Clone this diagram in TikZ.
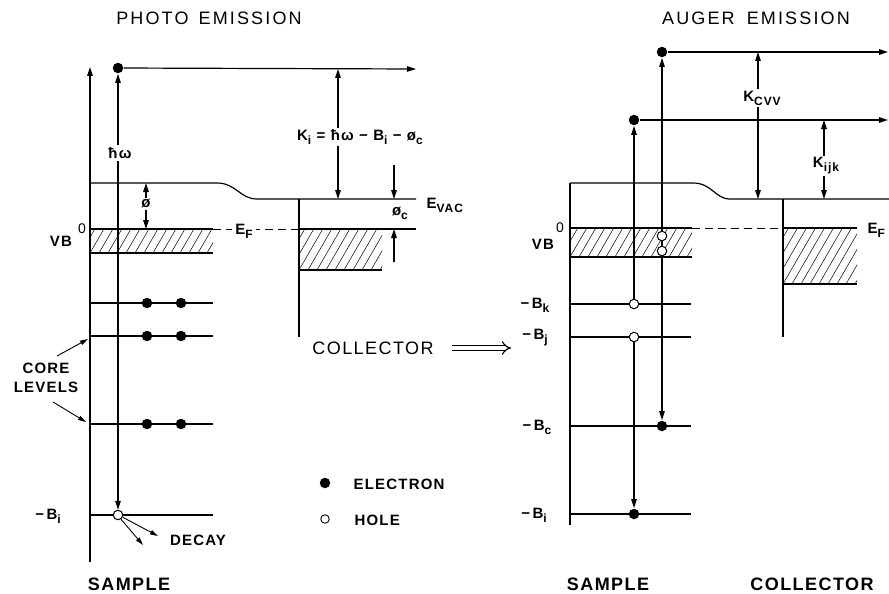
\documentclass[tikz,border=0pt]{standalone}
\usepackage{fontspec}
\setmainfont{Liberation Sans}[LetterSpace=8]
\usetikzlibrary{arrows.meta}
\newcommand\sbs[1]{\raisebox{-0.5ex}{\scalebox{0.8}{#1}}}
\newcommand\hatchbox[4]{%
  \begin{scope}
    \clip (#1,#2) rectangle (#3,#4);
    \pgfmathsetmacro\hh{#4-#2}
    \foreach \k in {-4,...,22}{
      \draw[hatchline] ({#1+\k*9},#4) -- ++({0.58*\hh},{-\hh});
    }
  \end{scope}}
\begin{document}
\begin{tikzpicture}[x=1pt,y=-1pt,
  line width=1.2pt,
  >={Triangle[length=9pt,width=5.5pt]},
  smallarr/.style={line width=0.9pt,-{Triangle[length=8pt,width=4.5pt]}},
  hatchline/.style={line width=0.5pt},
  elec/.style={circle,fill=black,inner sep=0pt,minimum size=10.5pt},
  hole/.style={circle,draw,line width=1pt,fill=white,inner sep=0pt,minimum size=9.5pt},
  lab/.style={font=\bfseries\fontsize{15}{18}\selectfont,inner sep=1pt},
  cut/.style={lab,fill=white,inner sep=2pt},
  big/.style={font=\bfseries\fontsize{18}{20}\selectfont,inner sep=0pt},
  ttl/.style={font=\fontsize{18}{20}\selectfont\addfontfeature{LetterSpace=12},inner sep=0pt},
  dashline/.style={line width=1pt,dash pattern=on 8pt off 5pt}]
\clip (0,0) rectangle (889,594);
\fill[white] (0,0) rectangle (889,594);

% ================= LEFT: PHOTO EMISSION =================
\node[ttl] (t1) at (209,18) {PHOTO\hspace{10pt}EMISSION};

% axis
\coordinate (axB) at (90,562);
\coordinate (axT) at (90,67);
\draw[->] (axB) -- (axT);

% hatched bands
\hatchbox{90}{229}{213}{253}
\hatchbox{299}{229}{382}{270}

% vacuum level
\coordinate (v1) at (90,183);
\coordinate (v2) at (217,183);
\coordinate (v3) at (257,199);
\coordinate (v4) at (416,199);
\draw (v1) -- (v2) .. controls (236,183) and (240,199) .. (v3) -- (v4);

% Fermi level
\coordinate (f1) at (90,229);
\coordinate (f2) at (213,229);
\coordinate (f3) at (299,229);
\coordinate (f4) at (416,229);
\draw (f1) -- (f2);
\draw[dashline] (f2) -- (f3);
\draw (f3) -- (f4);
\node[cut,fill=white,inner sep=3pt] (ef1) at (244,231) {E\sbs{F}};
\draw (90,253) -- (213,253);

% collector
\coordinate (c1) at (299,199);
\coordinate (c2) at (299,337);
\draw (c1) -- (c2);
\draw (299,270) -- (382,270);

% core levels
\foreach \y/\n in {303/a,336/b,424/c}{
  \draw (90,\y) -- (213,\y);
  \node[elec] (ea\n) at (147,\y) {};
  \node[elec] (eb\n) at (181,\y) {};
}
\coordinate (bi1) at (90,515);
\coordinate (bi2) at (213,515);
\draw (bi1) -- (bi2);

% photo excitation
\node[elec] (e0) at (118,68) {};
\node[hole] (h0) at (118,515) {};
\draw[<->] (h0) -- (e0);
\node[cut] (hw) at (120,153) {ħω};
\coordinate (kend) at (416,69);
\draw[->] (e0) -- (kend);

% work function
\coordinate (p1) at (146,183);
\coordinate (p2) at (146,229);
\draw[<->] (p1) -- (p2);
\node[cut] (phi) at (146,204) {ø};

% K_i
\coordinate (k1) at (338,69);
\coordinate (k2) at (338,199);
\draw[<->] (k1) -- (k2);
\node[cut] (ki) at (360,137) {K\sbs{i} = ħω − B\sbs{i} − ø\sbs{c}};

% phi_c
\coordinate (pc1) at (394,165);
\coordinate (pc2) at (394,199);
\coordinate (pc3) at (394,262);
\coordinate (pc4) at (394,229);
\draw[->] (pc1) -- (pc2);
\draw[->] (pc3) -- (pc4);
\node[lab] (phic) at (400,213) {ø\sbs{c}};
\node[lab,anchor=west] (evac) at (425,205) {E\sbs{VAC}};

% labels left
\node[lab] (vb1) at (61,241) {VB};
\node[lab,font=\fontsize{14}{16}\selectfont] (vb1o) at (82,229) {0};
\node[lab] (bil) at (48,516) {−\,B\sbs{i}};
\node[lab,align=center,font=\bfseries\fontsize{15}{19}\selectfont] (core) at (46,378) {CORE\\LEVELS};
\coordinate (ca1) at (57,356);
\coordinate (ca2) at (88,339);
\coordinate (cb1) at (53,402);
\coordinate (cb2) at (86,422);
\draw[smallarr] (ca1) -- (ca2);
\draw[smallarr] (cb1) -- (cb2);

% decay
\coordinate (d1) at (158,536);
\coordinate (d2) at (143,545);
\draw[smallarr] (h0.-25) -- (d1);
\draw[smallarr] (h0.-55) -- (d2);
\node[lab] (decay) at (198,540) {DECAY};
\node[big] (samp1) at (129,584) {SAMPLE};

% middle
\node[font=\fontsize{18}{20}\selectfont,inner sep=0pt] (coll0) at (373,348) {COLLECTOR};
\coordinate (da1) at (452,348);
\coordinate (da2) at (511,348);
\draw[line width=1.2pt,double,double distance=3.5pt,-{Implies[length=10pt]}] (da1) -- (da2);

% legend
\node[elec] (le) at (325,483) {};
\node[lab,anchor=west] (let) at (352,484) {ELECTRON};
\node[hole,line width=0.9pt,minimum size=8.5pt] (lh) at (325,519) {};
\node[lab,anchor=west] (lht) at (353,520) {HOLE};

% ================= RIGHT: AUGER EMISSION =================
\node[ttl] (t2) at (756,18) {AUGER\hspace{12pt}EMISSION};

\hatchbox{570}{228}{692}{257}
\hatchbox{783}{228}{857}{284}

\coordinate (ra1) at (570,183);
\coordinate (ra2) at (570,525);
\draw (ra1) -- (ra2);
\coordinate (rv2) at (693,183);
\coordinate (rv3) at (730,199);
\coordinate (rv4) at (889,199);
\draw (ra1) -- (rv2) .. controls (712,183) and (715,199) .. (rv3) -- (rv4);

\coordinate (rf1) at (570,228);
\coordinate (rf2) at (692,228);
\coordinate (rf3) at (783,228);
\coordinate (rf4) at (857,228);
\draw (rf1) -- (rf2);
\draw[dashline] (rf2) -- (rf3);
\draw (rf3) -- (rf4);
\node[lab,anchor=west] (ef2) at (866,230) {E\sbs{F}};
\draw (570,257) -- (692,257);

\coordinate (rc1) at (783,199);
\coordinate (rc2) at (783,337);
\draw (rc1) -- (rc2);
\draw (783,284) -- (857,284);

\foreach \y in {304,337,426,514}{
  \draw (570,\y) -- (691,\y);
}

\node[lab] (vb2) at (543,244) {VB};
\node[lab,font=\fontsize{14}{16}\selectfont] (vb2o) at (560,228) {0};
\node[lab] (bk) at (535,305) {−\,B\sbs{k}};
\node[lab] (bj) at (535,338) {−\,B\sbs{j}};
\node[lab] (bc) at (537,427) {−\,B\sbs{c}};
\node[lab] (bi) at (534,515) {−\,B\sbs{i}};

% Auger transitions
\node[elec] (e1) at (634,120) {};
\node[elec] (e2) at (662,52) {};
\node[elec] (ec) at (662,426) {};
\node[elec] (ei) at (634,514) {};
\node[hole] (hk) at (634,304) {};
\node[hole] (hj) at (634,337) {};
\draw[->] (hk) -- (e1);
\draw[->] (hj) -- (ei);
\draw[<->] (ec) -- (e2);
\node[hole] (hv1) at (662,236) {};
\node[hole] (hv2) at (662,251) {};

\coordinate (o2) at (888,52);
\coordinate (o1) at (888,120);
\draw[->] (e2) -- (o2);
\draw[->] (e1) -- (o1);

\coordinate (kc1) at (758,52);
\coordinate (kc2) at (758,199);
\draw[<->] (kc1) -- (kc2);
\node[cut] (kcvv) at (762,98) {K\sbs{CVV}};
\coordinate (kj1) at (824,120);
\coordinate (kj2) at (824,199);
\draw[<->] (kj1) -- (kj2);
\node[cut] (kijk) at (826,166) {K\sbs{ijk}};

\node[big] (samp2) at (608,584) {SAMPLE};
\node[big] (coll2) at (812,584) {COLLECTOR};
\end{tikzpicture}
\end{document}
